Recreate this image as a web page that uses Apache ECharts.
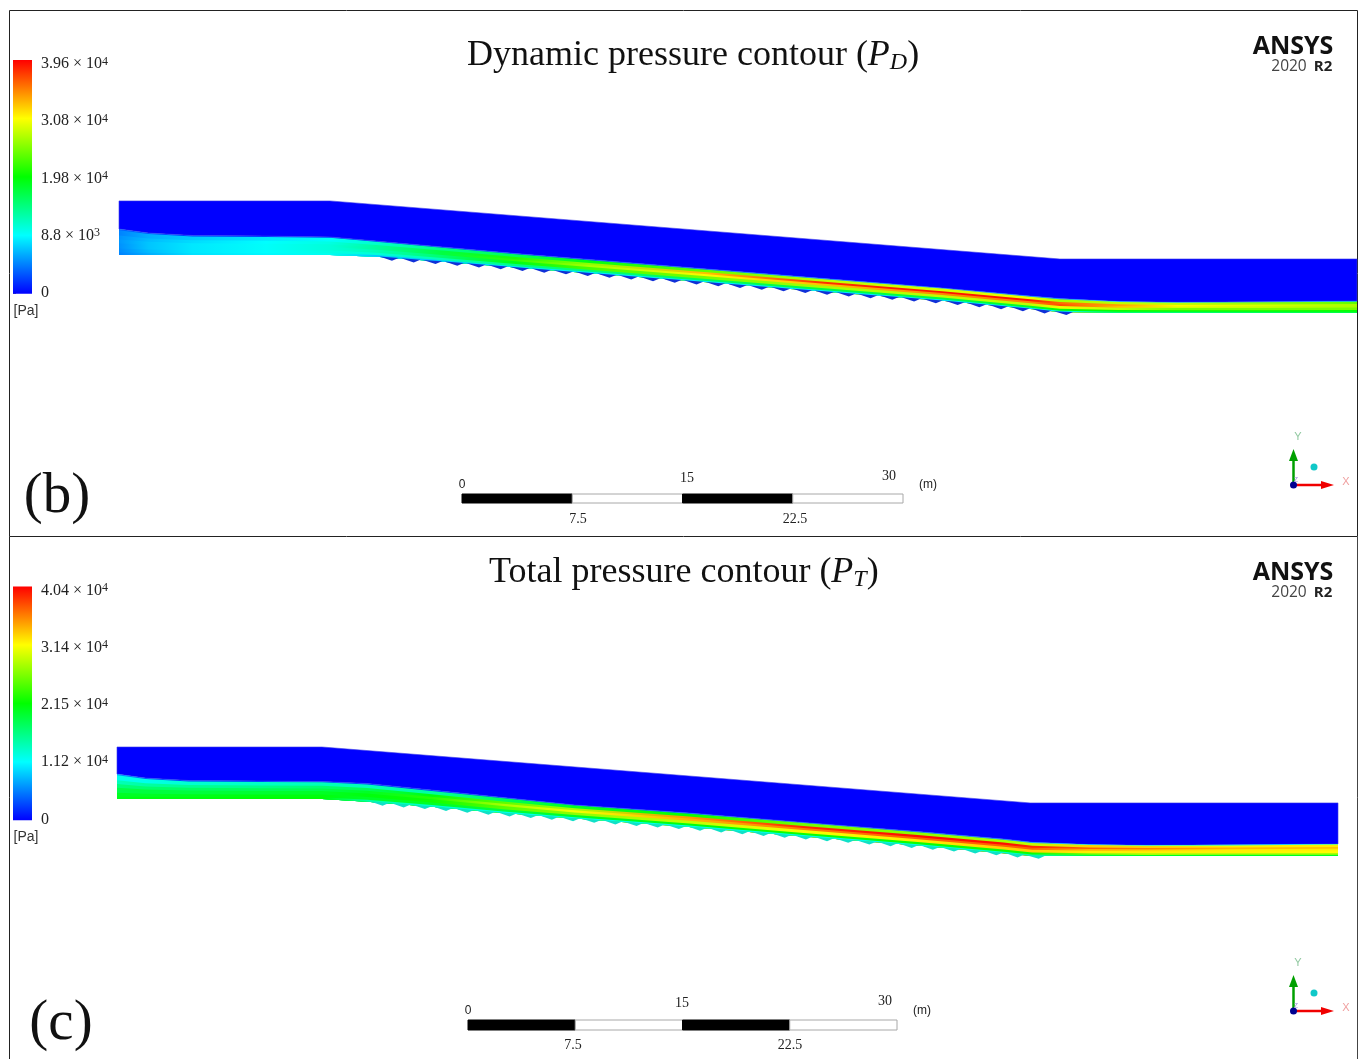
<!DOCTYPE html>
<html><head><meta charset="utf-8">
<style>html,body{margin:0;padding:0;background:#fff}#c{width:1360px;height:1059px}</style>
<script src="https://cdn.jsdelivr.net/npm/echarts@6/dist/echarts.min.js"></script>
</head><body><div id="c"></div>
<script>
// ---------- Shared ----------
const rampColors = ['#0000ff', '#00ffff', '#00ff00', '#ffff00', '#ff0000'];
const layerEdges = [0, 0.1, 0.25, 0.45, 0.6, 0.75, 0.95, 1];   // fraction of the water depth, bed to surface
const stepPositions = [17.72,19.2,20.68,22.16,23.64,25.12,26.6,28.08,29.56,31.04,32.52,34,35.48,36.96,38.44,39.92,41.4,42.88,44.36,45.84,47.32,48.8,50.28,51.76,53.24,54.72,56.2,57.68,59.16,60.64,62.12,63.6];
const scaleStops = [0, 7.5, 15, 22.5, 30];

// ---------- Panel (b) dynamic pressure ----------
const ticksB = [0, 8800, 19800, 30800, 39600];
const tickTextB = [['0',''],['8.8 × 10','3'],['1.98 × 10','4'],['3.08 × 10','4'],['3.96 × 10','4']];
const stationsB = [0,2,5,10,14.35,17.5,22,27,32,40,48,56,62,64,68,72,78,84.22];
const surfaceB  = [6.19,5.92,5.75,5.71,5.65,5.37,4.97,4.52,4.12,3.47,2.82,2.18,1.63,1.46,1.26,1.21,1.24,1.29];
const bedB      = [4.42,4.42,4.42,4.42,4.42,4.31,3.97,3.57,3.18,2.56,1.93,1.31,0.75,0.54,0.48,0.48,0.48,0.48];
const roofXB = [0, 14.35, 64, 84.22];
const roofYB = [8.10, 8.10, 4.15, 4.15];
const kPaB = [
 [4.5,4.8,5,5.2,5,4.5,3.5],
 [6,6.5,6.8,6.8,6.5,6,3],
 [7.8,8,8,8,7.6,7,2],
 [8.6,8.8,9,9,8.8,8,2],
 [9.5,10,10.5,10.5,10,9,2],
 [7,10.5,12,13,13,11,2],
 [7,12,15,17,17,14,3],
 [8,14,19,22,21,16,3],
 [8,15,23,27,26,19,3],
 [8,16,25,31,33,24,4],
 [8,17,27,33,38,28,5],
 [8,17,28,35,39,29,5],
 [8,18,28,35,39,30,5],
 [9,20,30,37,36,27,5],
 [15,20,28,33,34,28,8],
 [15,20,25,29,31,28,6],
 [16,20,25,28,29,26,6],
 [17,20,25,27,27,24,6]
];

// ---------- Panel (c) total pressure ----------
const ticksC = [0, 11200, 21500, 31400, 40400];
const tickTextC = [['0',''],['1.12 × 10','4'],['2.15 × 10','4'],['3.14 × 10','4'],['4.04 × 10','4']];
const stationsC = [0,2,5,10,14.34,17.5,22,27,32,40,48,56,62,64,68,72,78,85.38];
const surfaceC  = [6.43,6.15,5.98,5.94,5.91,5.77,5.31,4.79,4.27,3.71,3.05,2.41,1.89,1.66,1.50,1.45,1.48,1.54];
const bedC      = [4.69,4.69,4.69,4.69,4.69,4.50,4.14,3.70,3.32,2.73,2.07,1.43,0.90,0.70,0.70,0.70,0.70,0.70];
const roofXC = [0, 14.34, 63.85, 85.38];
const roofYC = [8.32, 8.32, 4.41, 4.41];
const kPaC = [
 [20.5,20,18.5,16.5,14,12,7],
 [21,20,19,17,15,12,4],
 [21,20.5,19,17.5,15.5,13,3],
 [21.5,21,19.5,18,16,13.5,3],
 [21.5,21,20,18.5,17,14,3],
 [15,20,21,20,18,14,3],
 [13,20,22,23,21,15,3],
 [12,19,25,28,25,18,4],
 [12,20,27,31,28,20,4],
 [12,21,29,34,35,22,5],
 [12,22,31,36,39,26,5],
 [12,22,32,37,40,27,5],
 [13,22,33,37,40,28,6],
 [15,22,33,37,39,29,7],
 [19,26,32,34,37,33,12],
 [20,28,32,33,36,33,12],
 [20,28,32,32,34,32,12],
 [20,28,31.5,32,33.5,32,12]
];

// ---------- Helpers ----------
function hex(c){return [1,3,5].map(i=>parseInt(c.substr(i,2),16));}
function colorOf(pa,ticks){
  for(let i=0;i<ticks.length-1;i++){
    if(pa<=ticks[i+1]){
      const t=Math.max(0,(pa-ticks[i])/(ticks[i+1]-ticks[i]));
      const a=hex(rampColors[i]),b=hex(rampColors[i+1]);
      return 'rgb('+a.map((v,k)=>Math.round(v+(b[k]-v)*t)).join(',')+')';
    }
  }
  return rampColors[4];
}
function lineAt(xs,ys,x){
  for(let i=0;i<xs.length-1;i++) if(x<=xs[i+1]) return ys[i]+(ys[i+1]-ys[i])*(x-xs[i])/(xs[i+1]-xs[i]);
  return ys[ys.length-1];
}
function flowSeries(idx,st,sf,bd,rx,ry,kPa,ticks,wedge){
  const span=st[st.length-1]-st[0];
  const bands=layerEdges.length-1;
  const base={type:'custom',xAxisIndex:idx,yAxisIndex:idx,clip:false,silent:true,animation:false,
    encode:{x:0,y:1}};
  return [
    {...base,name:'air',data:[[0,0]],renderItem(p,api){
      const pts=rx.map((x,i)=>api.coord([x,ry[i]]));
      for(let i=st.length-1;i>=0;i--)pts.push(api.coord([st[i],sf[i]]));
      return {type:'polygon',shape:{points:pts},style:{fill:'#0000ff',stroke:'#3a3ae8',lineWidth:0.6}};
    }},
    {...base,name:'water',data:Array.from({length:bands},(_,k)=>[bands-1-k,0]),renderItem(p,api){
      const k=api.value(0);
      const f=layerEdges[k+1];
      const pts=st.map((x,i)=>api.coord([x,bd[i]+(sf[i]-bd[i])*f]));
      for(let i=st.length-1;i>=0;i--)pts.push(api.coord([st[i],bd[i]]));
      const stops=st.map((x,i)=>({offset:(x-st[0])/span,color:colorOf(kPa[i][k]*1000,ticks)}));
      return {type:'polygon',shape:{points:pts},style:{fill:{type:'linear',x:0,y:0,x2:1,y2:0,colorStops:stops}}};
    }},
    {...base,name:'steps',data:stepPositions.map(x=>[x,0]),renderItem(p,api){
      const x=api.value(0);
      const a=api.coord([x,lineAt(st,bd,x)+0.02]);
      const b=api.coord([x+0.85,lineAt(st,bd,x+0.85)-0.2]);
      const c=api.coord([x+1.3,lineAt(st,bd,x+1.3)+0.02]);
      return {type:'polygon',shape:{points:[a,b,c]},style:{fill:wedge}};
    }}
  ];
}
function rampSeries(idx){
  return {type:'custom',xAxisIndex:idx,yAxisIndex:idx,clip:false,silent:true,animation:false,encode:{x:0,y:1},
    data:[[0,0]],renderItem(p,api){
      const a=api.coord([0,4.07]),b=api.coord([1,-0.015]);
      return {type:'rect',shape:{x:a[0],y:a[1],width:b[0]-a[0],height:b[1]-a[1]},
        style:{fill:{type:'linear',x:0,y:0,x2:0,y2:1,colorStops:rampColors.slice().reverse().map((c,i)=>({offset:i/4,color:c}))}}};
    }};
}
function scaleSeries(idx){
  return {type:'custom',xAxisIndex:idx,yAxisIndex:idx,clip:false,silent:true,animation:false,encode:{x:0,y:1},
    data:scaleStops.slice(0,-1).map((s,i)=>[s,scaleStops[i+1],i]),renderItem(p,api){
      const a=api.coord([api.value(0),1]),b=api.coord([api.value(1),0]);
      const black=api.value(2)%2===0;
      return {type:'rect',shape:{x:a[0],y:a[1],width:b[0]-a[0],height:b[1]-a[1]},
        style:{fill:black?'#000':'#fff',stroke:black?'#000':'#a8a8a8',lineWidth:1}};
    }};
}
const hiddenX=(g,max)=>({type:'value',gridIndex:g,min:0,max:max,show:false});
const hiddenY=(g,max)=>({type:'value',gridIndex:g,min:0,max:max,show:false});
function rampAxis(g,texts){
  return {type:'value',gridIndex:g,min:0,max:4,interval:1,position:'right',
    axisLine:{show:false},splitLine:{show:false},
    axisTick:{show:true,length:3,lineStyle:{color:'#777',width:1}},
    minorTick:{show:true,splitNumber:15,length:2,lineStyle:{color:'#999',width:1}},
    axisLabel:{margin:9,formatter:v=>{const t=texts[v];return t[1]?`{a|${t[0]}}{s|${t[1]}}`:`{a|${t[0]}}`;},
      rich:{a:{fontFamily:'Liberation Serif',fontSize:16,color:'#222'},
            s:{fontFamily:'Liberation Serif',fontSize:12,color:'#222',verticalAlign:'top',padding:[0,0,5,0]}}}};
}
const titleRich={t:{fontFamily:'Liberation Serif',fontWeight:'normal',fontSize:36,color:'#111'},
  i:{fontFamily:'Liberation Serif',fontWeight:'normal',fontStyle:'italic',fontSize:36,color:'#111'},
  u:{fontFamily:'Liberation Serif',fontWeight:'normal',fontStyle:'italic',fontSize:24,color:'#111',padding:[14,0,0,0]}};
const txt=(text,x,y,size,family,color,extra)=>({type:'text',x:x,y:y,silent:true,
  style:{text:text,fontSize:size,fontFamily:family,fill:color,align:'center',verticalAlign:'middle',...(extra||{})}});
const serif='Liberation Serif',sans='Liberation Sans';
function logo(y){return [
  txt('ANSYS',1293,y+1,25,'Open Sans','#111',{fontWeight:'bold'}),
  txt('2020',1289,y+21,15.5,'Open Sans','#444'),
  txt('R2',1323,y+21,15,'Open Sans','#222',{fontWeight:'bold'})
];}
function triad(y){return [
  {type:'line',shape:{x1:1293.5,y1:y,x2:1293.5,y2:y-28},silent:true,style:{stroke:'#00a000',lineWidth:2.5}},
  {type:'polygon',shape:{points:[[1293.5,y-36],[1289,y-24],[1298,y-24]]},silent:true,style:{fill:'#00a000'}},
  {type:'line',shape:{x1:1293,y1:y,x2:1324,y2:y},silent:true,style:{stroke:'#f00000',lineWidth:2.5}},
  {type:'polygon',shape:{points:[[1334,y],[1321,y-4],[1321,y+4]]},silent:true,style:{fill:'#f00000'}},
  {type:'circle',shape:{cx:1293.5,cy:y,r:3.5},silent:true,style:{fill:'#000090'}},
  {type:'circle',shape:{cx:1314,cy:y-18,r:3.5},silent:true,style:{fill:'#10c8c8'}},
  txt('Y',1298,y-48,11,sans,'#90c8a0'),
  txt('X',1346,y-3,11,sans,'#f0a0a0'),
  txt('Z',1296,y-5,7,sans,'#9a90d8')
];}

const option={
  animation:false,
  backgroundColor:'#ffffff',
  title:[
    {text:'{t|Dynamic pressure contour (}{i|P}{u|D}{t|)}',left:462,top:32,textStyle:{rich:titleRich}},
    {text:'{t|Total pressure contour (}{i|P}{u|T}{t|)}',left:484,top:549,textStyle:{rich:titleRich}}
  ],
  grid:[
    {left:119,width:1238,top:190,height:130},
    {left:117,width:1221,top:736,height:130},
    {left:13,width:19,top:64,height:229},
    {left:13,width:19,top:590.5,height:229},
    {left:462,width:441,top:494,height:9},
    {left:468,width:429,top:1020,height:10}
  ],
  xAxis:[hiddenX(0,84.22),hiddenX(1,85.38),hiddenX(2,1),hiddenX(3,1),hiddenX(4,30),hiddenX(5,30)],
  yAxis:[hiddenY(0,8.844),hiddenY(1,9.09),rampAxis(2,tickTextB),rampAxis(3,tickTextC),hiddenY(4,1),hiddenY(5,1)],
  series:[
    ...flowSeries(0,stationsB,surfaceB,bedB,roofXB,roofYB,kPaB,ticksB,'#1030d8'),
    ...flowSeries(1,stationsC,surfaceC,bedC,roofXC,roofYC,kPaC,ticksC,'#10e0c8'),
    rampSeries(2),rampSeries(3),scaleSeries(4),scaleSeries(5)
  ],
  graphic:{elements:[
    {type:'rect',shape:{x:9.5,y:10.5,width:1348,height:526},silent:true,style:{fill:'none',stroke:'#222',lineWidth:1}},
    {type:'line',shape:{x1:9.5,y1:536.5,x2:9.5,y2:1059},silent:true,style:{stroke:'#222',lineWidth:1}},
    {type:'line',shape:{x1:1357.5,y1:536.5,x2:1357.5,y2:1059},silent:true,style:{stroke:'#444',lineWidth:1}},
    txt('(b)',57,497,57,serif,'#111'),
    txt('(c)',61,1024,57,serif,'#111'),
    txt('[Pa]',26,311,14,sans,'#333'),
    txt('[Pa]',26,837,14,sans,'#333'),
    ...logo(46),...logo(572),
    ...triad(485),...triad(1011),
    txt('0',462,485,12,sans,'#222'),txt('15',687,478,14,serif,'#222'),txt('30',889,476,14,serif,'#222'),
    txt('(m)',928,485,12,sans,'#222'),txt('7.5',578,519,14,serif,'#222'),txt('22.5',795,519,14,serif,'#222'),
    txt('0',468,1011,12,sans,'#222'),txt('15',682,1003,14,serif,'#222'),txt('30',885,1001,14,serif,'#222'),
    txt('(m)',922,1011,12,sans,'#222'),txt('7.5',573,1045,14,serif,'#222'),txt('22.5',790,1045,14,serif,'#222')
  ]}
};
echarts.init(document.getElementById('c'),null,{renderer:'canvas'}).setOption(option);
</script></body></html>
